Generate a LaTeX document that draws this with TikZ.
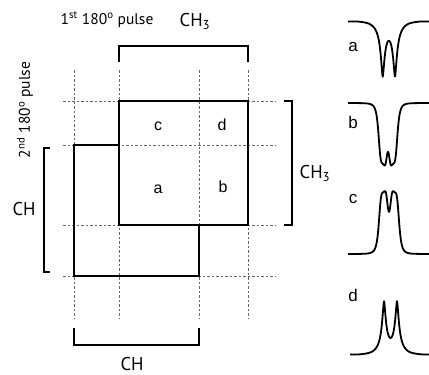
\documentclass[tikz,border=0pt]{standalone}
\usepackage{fontspec}
\setmainfont{PT Sans}
\newfontfamily\arialf{Liberation Sans}
\begin{document}
\begin{tikzpicture}[x=1pt,y=-1pt,
  declare function={lz(\d,\w,\p)=1/(1+pow(min(abs(\d)/\w,10)+0.0001,\p));},
  boxline/.style={line width=1.8pt, line join=miter},
  gridline/.style={draw=black!60, line width=0.9pt, dash pattern=on 2.5pt off 2pt},
  brk/.style={line width=1.8pt, line join=miter},
  big/.style={font=\fontsize{18.5}{20}\selectfont, inner sep=0pt, anchor=base},
  pulse/.style={font=\fontsize{15.5}{18}\selectfont, inner sep=0pt},
  cell/.style={font=\arialf\fontsize{16}{18}\selectfont, inner sep=0pt},
  slbl/.style={font=\arialf\fontsize{17}{18}\selectfont, inner sep=0pt},
  spec/.style={line width=1.8pt, line join=round}
]
\useasboundingbox (0,0) rectangle (429,375);
% grid coordinates
\coordinate (A1) at (119,101); \coordinate (A2) at (248,225);
\coordinate (B1) at (74,145);  \coordinate (B2) at (199,276);
% dashed grid
\foreach \v in {74,119,199,248} { \draw[gridline] (\v,70) -- (\v,318); }
\foreach \h in {101,145,225,276} { \draw[gridline] (63,\h) -- (276,\h); }
% CH box (visible part)
\draw[boxline] (119,145) -- (B1) -- (74,276) -- (B2) -- (199,225);
% CH3 box
\draw[boxline] (A1) rectangle (A2);
% brackets
\draw[brk] (119,62) -- (119,46) -- (248,46) -- (248,62);
\draw[brk] (284,101) -- (292,101) -- (292,225) -- (284,225);
\draw[brk] (50,148) -- (44,148) -- (44,272) -- (50,272);
\draw[brk] (74,328) -- (74,345) -- (199,345) -- (199,328);
% labels
\node[pulse, anchor=base] (p1) at (107,24) {1\textsuperscript{st} 180\textsuperscript{o} pulse};
\node[big] (ch3t) at (195,26) {CH\textsubscript{3}};
\node[pulse, rotate=90] (p2) at (25,110) {2\textsuperscript{nd} 180\textsuperscript{o} pulse};
\node[big] (ch3r) at (315,178.5) {CH\textsubscript{3}};
\node[big] (chl) at (24,215.5) {CH};
\node[big] (chb) at (132,370) {CH};
% cells
\node[cell] (cc) at (158,126) {c};
\node[cell] (cd) at (222,125) {d};
\node[cell] (ca) at (158,189) {a};
\node[cell] (cb) at (223,187) {b};
% spectra labels
\node[slbl] (sa) at (353,47) {a};
\node[slbl] (sb) at (353,122) {b};
\node[slbl] (sc) at (353,199) {c};
\node[slbl] (sd) at (353,295) {d};
% spectra
\draw[spec] plot[domain=348:429, samples=300] (\x, {18.8 + 53.8*(lz(\x-382.7,2.63,1.6)+lz(\x-395,2.63,1.6))});
\draw[spec] plot[domain=348:429, samples=300] (\x, {103 + 58.5*(lz(\x-383,4.6,4)+lz(\x-393,4.6,4))});
\draw[spec] plot[domain=348:429, samples=300] (\x, {254 - 60*(lz(\x-383.5,4.72,4)+lz(\x-394.5,4.72,4))});
\draw[spec] plot[domain=350:429, samples=300] (\x, {357 - 52.4*(lz(\x-384,2.54,1.6)+lz(\x-397,2.54,1.6))});
\end{tikzpicture}
\end{document}
